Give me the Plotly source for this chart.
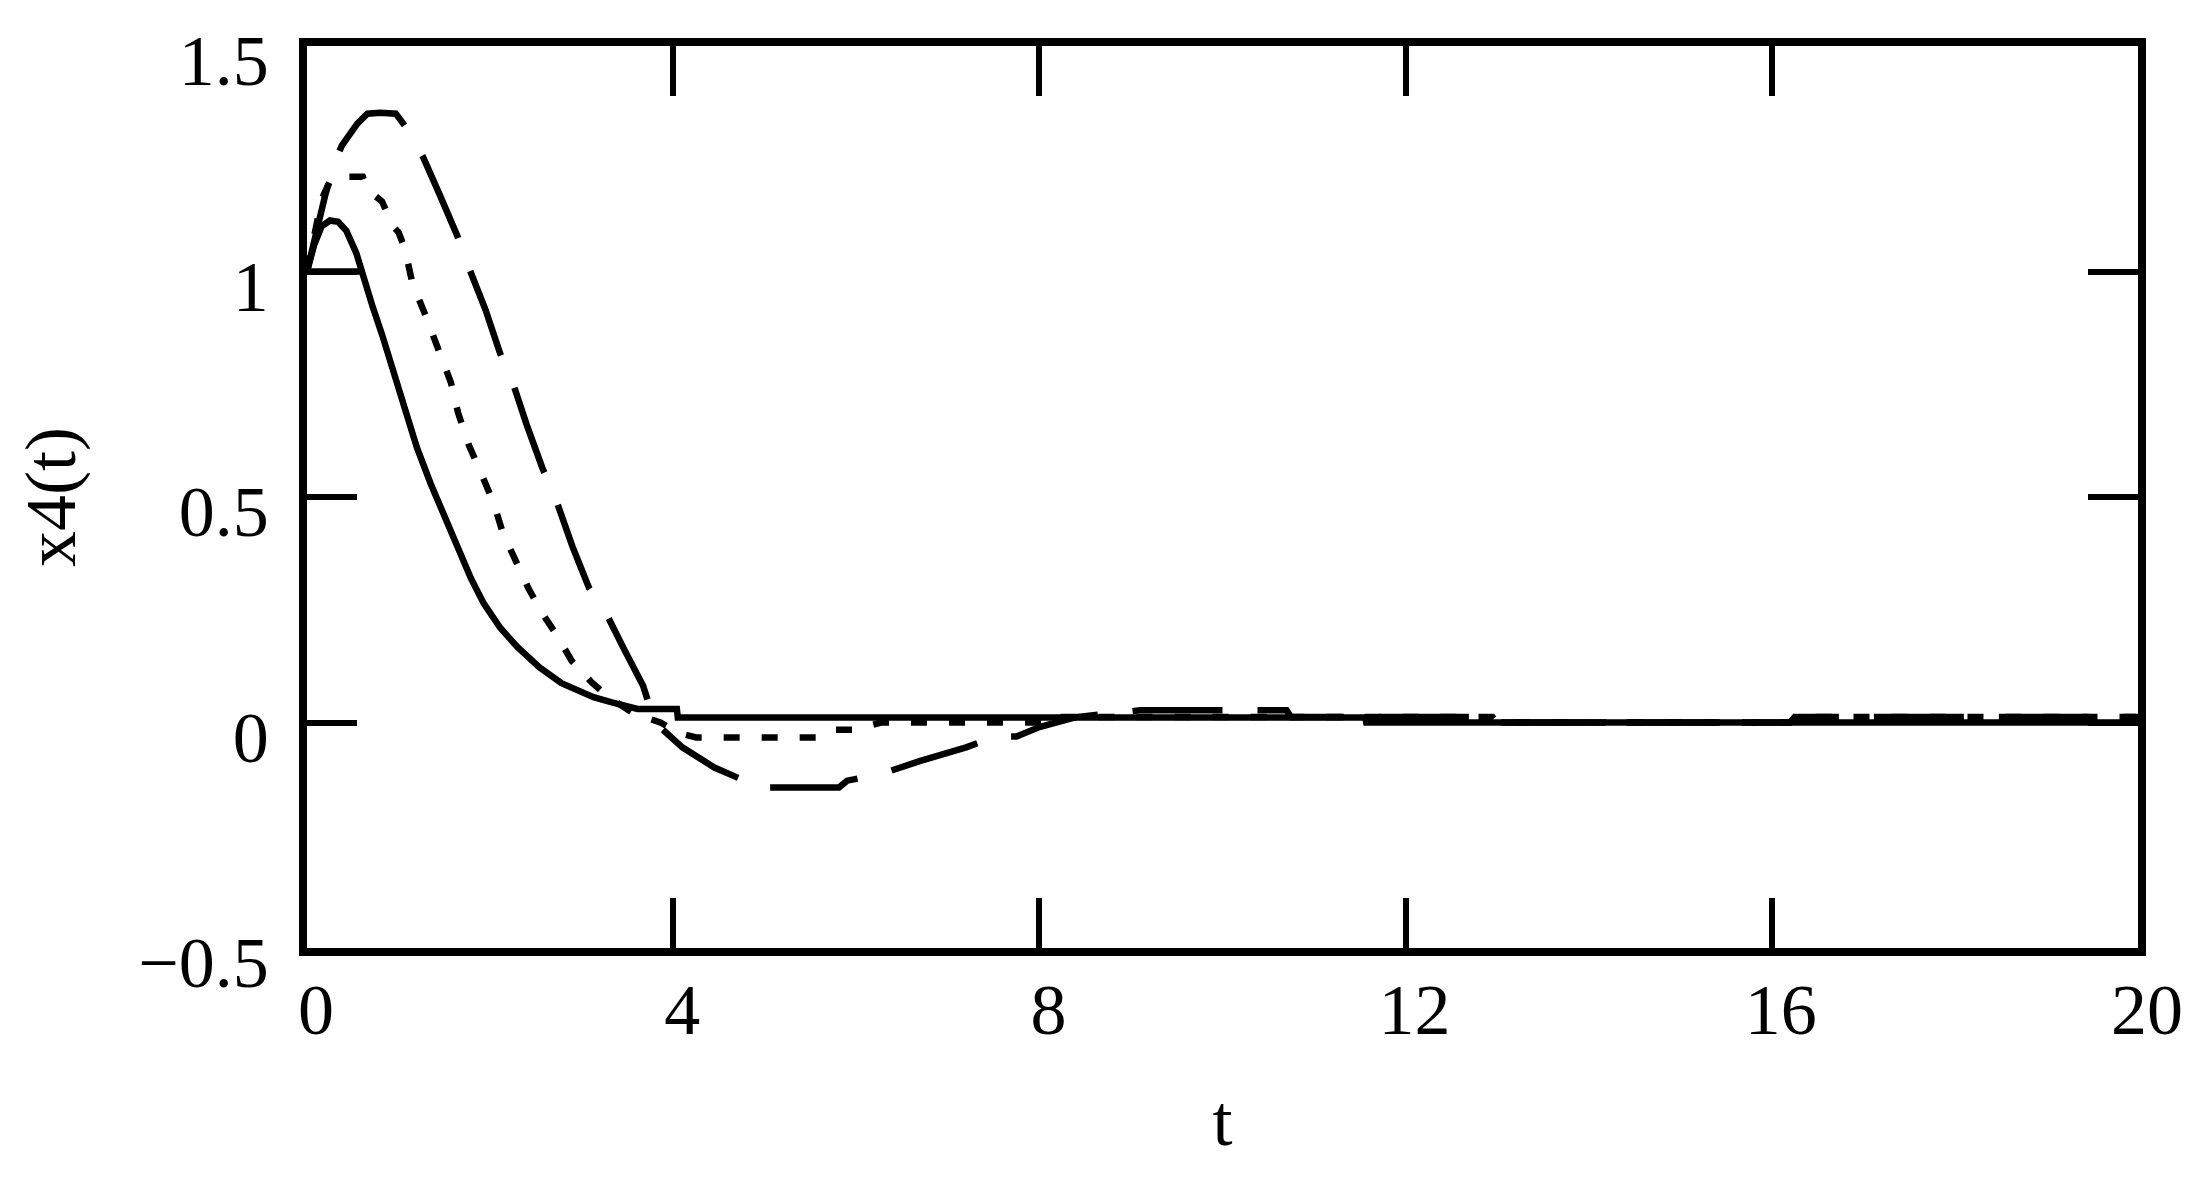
import plotly.graph_objects as go

# x4(t) responses, values
t_solid = [0, 0.08, 0.16, 0.25, 0.34, 0.43, 0.54, 0.61, 0.72, 0.82, 0.91, 1.0, 1.1,
           1.2, 1.35, 1.5, 1.65, 1.79, 1.93, 2.11, 2.3, 2.54, 2.78, 3.13, 3.32, 3.61,
           4.04, 4.05, 11.56, 11.57, 20]
x4_solid = [1.0, 1.06, 1.10, 1.113, 1.11, 1.09, 1.04, 0.99, 0.92, 0.86, 0.80, 0.745, 0.68,
            0.61, 0.53, 0.456, 0.38, 0.32, 0.264, 0.21, 0.167, 0.122, 0.087, 0.056, 0.045, 0.03,
            0.03, 0.011, 0.011, 0.0, 0.0]

t_flat = [0, 0.58]
x4_flat = [1.0, 1.0]

t_short = [0, 0.08, 0.16, 0.25, 0.35, 0.49, 0.61, 0.67, 0.82, 0.94, 1.0, 1.07, 1.15,
           1.29, 1.42, 1.57, 1.65, 1.77, 1.9, 2.04, 2.14, 2.3, 2.42, 2.57, 2.73, 2.89,
           3.11, 3.3, 3.57, 3.86, 4.07, 4.25, 5.57, 5.75, 5.98, 6.27, 8.2, 8.25, 12.95,
           13.0, 16.2, 16.25, 20]
x4_short = [1.0, 1.09, 1.16, 1.2, 1.21, 1.21, 1.21, 1.18, 1.155, 1.10, 1.087, 1.05, 0.975,
            0.905, 0.835, 0.755, 0.687, 0.614, 0.554, 0.486, 0.42, 0.35, 0.297, 0.242, 0.193, 0.137,
            0.089, 0.055, 0.02, 0.0, -0.024, -0.033, -0.033, -0.016, -0.016, 0.0, 0.0, 0.012, 0.012,
            0.0, 0.0, 0.012, 0.012]

t_long = [0, 0.1, 0.2, 0.3, 0.38, 0.55, 0.66, 0.8, 0.97, 1.09, 1.27, 1.45, 1.64, 1.76,
          1.95, 2.11, 2.25, 2.4, 2.57, 2.73, 2.9, 3.08, 3.28, 3.47, 3.67, 3.8, 4.1, 4.45,
          4.78, 4.87, 5.81, 5.9, 6.29, 6.7, 7.2, 7.52, 7.75, 8.0, 8.4, 9.1, 10.7, 10.75,
          12.95, 13.0, 16.2, 16.25, 20]
x4_long = [1.0, 1.09, 1.17, 1.24, 1.279, 1.328, 1.35, 1.352, 1.35, 1.317, 1.253, 1.17, 1.08, 1.013,
           0.915, 0.818, 0.752, 0.66, 0.565, 0.488, 0.39, 0.299, 0.237, 0.16, 0.082, 0.0, -0.055, -0.1,
           -0.129, -0.144, -0.144, -0.129, -0.113, -0.085, -0.055, -0.031, -0.031, -0.01, 0.012, 0.027, 0.027, 0.012,
           0.012, 0.0, 0.0, 0.012, 0.012]

FONT = "Liberation Serif"
LW = 6.5

fig = go.Figure()
fig.add_trace(go.Scatter(x=t_long, y=x4_long, mode="lines",
                         line=dict(color="black", width=LW, dash="90px,35px")))
fig.add_trace(go.Scatter(x=t_short, y=x4_short, mode="lines",
                         line=dict(color="black", width=LW, dash="16px,22px")))
fig.add_trace(go.Scatter(x=t_solid, y=x4_solid, mode="lines",
                         line=dict(color="black", width=LW)))
fig.add_trace(go.Scatter(x=t_flat, y=x4_flat, mode="lines",
                         line=dict(color="black", width=LW)))

axis_common = dict(
    showline=True, linewidth=7.5, linecolor="black", mirror="all",
    ticks="inside", ticklen=50, tickwidth=5.5, tickcolor="black",
    showgrid=False, zeroline=False, automargin=False,
    ticklabeloverflow="allow",
    tickfont=dict(family=FONT, size=72, color="black"),
)

# the page body adds an 8px offset, so margins are trimmed by that much
fig.update_xaxes(range=[0, 20], tickvals=[0, 4, 8, 12, 16, 20],
                 ticklabelstandoff=-8, ticklabelshift=9,
                 title=dict(text="t", font=dict(family=FONT, size=72, color="black"), standoff=48),
                 **axis_common)
fig.update_yaxes(range=[-0.5, 1.5], tickvals=[-0.5, 0, 0.5, 1, 1.5],
                 ticktext=["\u22120.5", "0", "0.5", "1", "1.5"],
                 ticklabelstandoff=16, ticklabelshift=14,
                 title=dict(text="x4(t)", font=dict(family=FONT, size=72, color="black"), standoff=42),
                 **axis_common)

fig.update_layout(
    width=2208, height=1180,
    margin=dict(l=299, r=78, t=38, b=240),
    paper_bgcolor="white", plot_bgcolor="white",
    showlegend=False,
)

fig.write_html("out.html")
